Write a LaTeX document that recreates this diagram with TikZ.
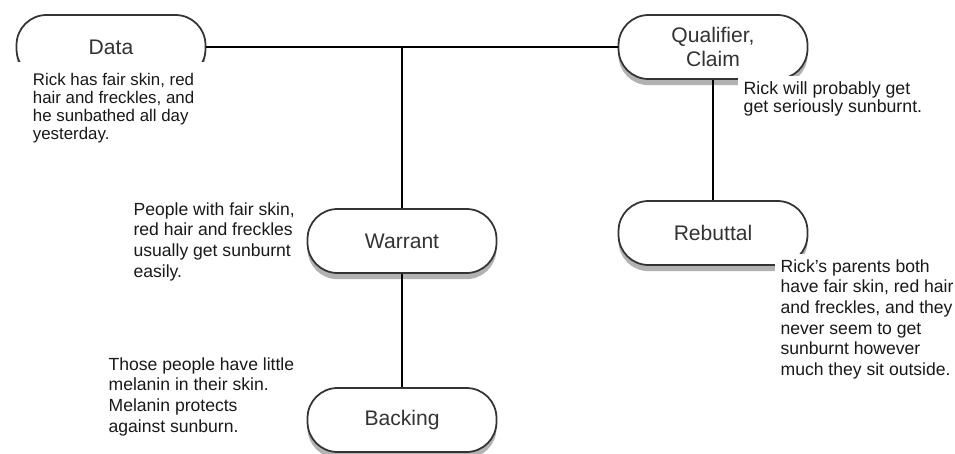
\documentclass[tikz,border=0pt]{standalone}
\usepackage{fontspec}
\setmainfont{Liberation Sans}
\usetikzlibrary{shadows}

\begin{document}
\begin{tikzpicture}[x=0.02cm, y=-0.02cm]
    \def\bw{3.78cm}
    \def\bh{1.28cm}
    \tikzset{box/.style={draw=black!80, line width=1pt, fill=white, rounded corners=0.6cm,
        minimum width=\bw, minimum height=\bh, align=center, text=black!80,
        font=\fontsize{12}{14}\selectfont,
        drop shadow={opacity=0.5, fill=black!60, shadow xshift=0pt, shadow yshift=-3.5pt}}}
    \tikzset{note/.style={fill=white, anchor=north west, align=left, inner xsep=3pt, inner ysep=3pt,
        text=black!90, font=\fontsize{10}{11.7}\selectfont}}
    \useasboundingbox (0,0) rectangle (955,453);

    \node[box] (data) at (111, 47) {Data};
    \node[box] (qual) at (713, 47) {Qualifier,\\Claim};
    \node[box] (warrant) at (402, 241) {Warrant};
    \node[box] (rebuttal) at (713, 233) {Rebuttal};
    \node[box] (backing) at (402, 420) {Backing};

    \coordinate (j) at (402, 47);
    \draw[line width=1.2pt] (data) -- (qual);
    \draw[line width=1.2pt] (j) -- (warrant);
    \draw[line width=1.2pt] (warrant) -- (backing);
    \draw[line width=1.2pt] (qual) -- (rebuttal);

    \node[note, inner xsep=10pt, inner ysep=6pt, font=\fontsize{9.6}{10.3}\selectfont] (datanote) at (15, 62)
        {Rick has fair skin, red\\hair and freckles, and\\he sunbathed all day\\yesterday.};
    \node[note, font=\fontsize{10.1}{10.4}\selectfont] (qualnote) at (738, 76)
        {Rick will probably get\\get seriously sunburnt.};
    \node[note] (warrantnote) at (128, 197)
        {People with fair skin,\\red hair and freckles\\usually get sunburnt\\easily.};
    \node[note] (backingnote) at (103, 352)
        {Those people have little\\melanin in their skin.\\Melanin protects\\against sunburn.};
    \node[note] (rebuttalnote) at (775, 254)
        {Rick's parents both\\have fair skin, red hair\\and freckles, and they\\never seem to get\\sunburnt however\\much they sit outside.};
\end{tikzpicture}
\end{document}
